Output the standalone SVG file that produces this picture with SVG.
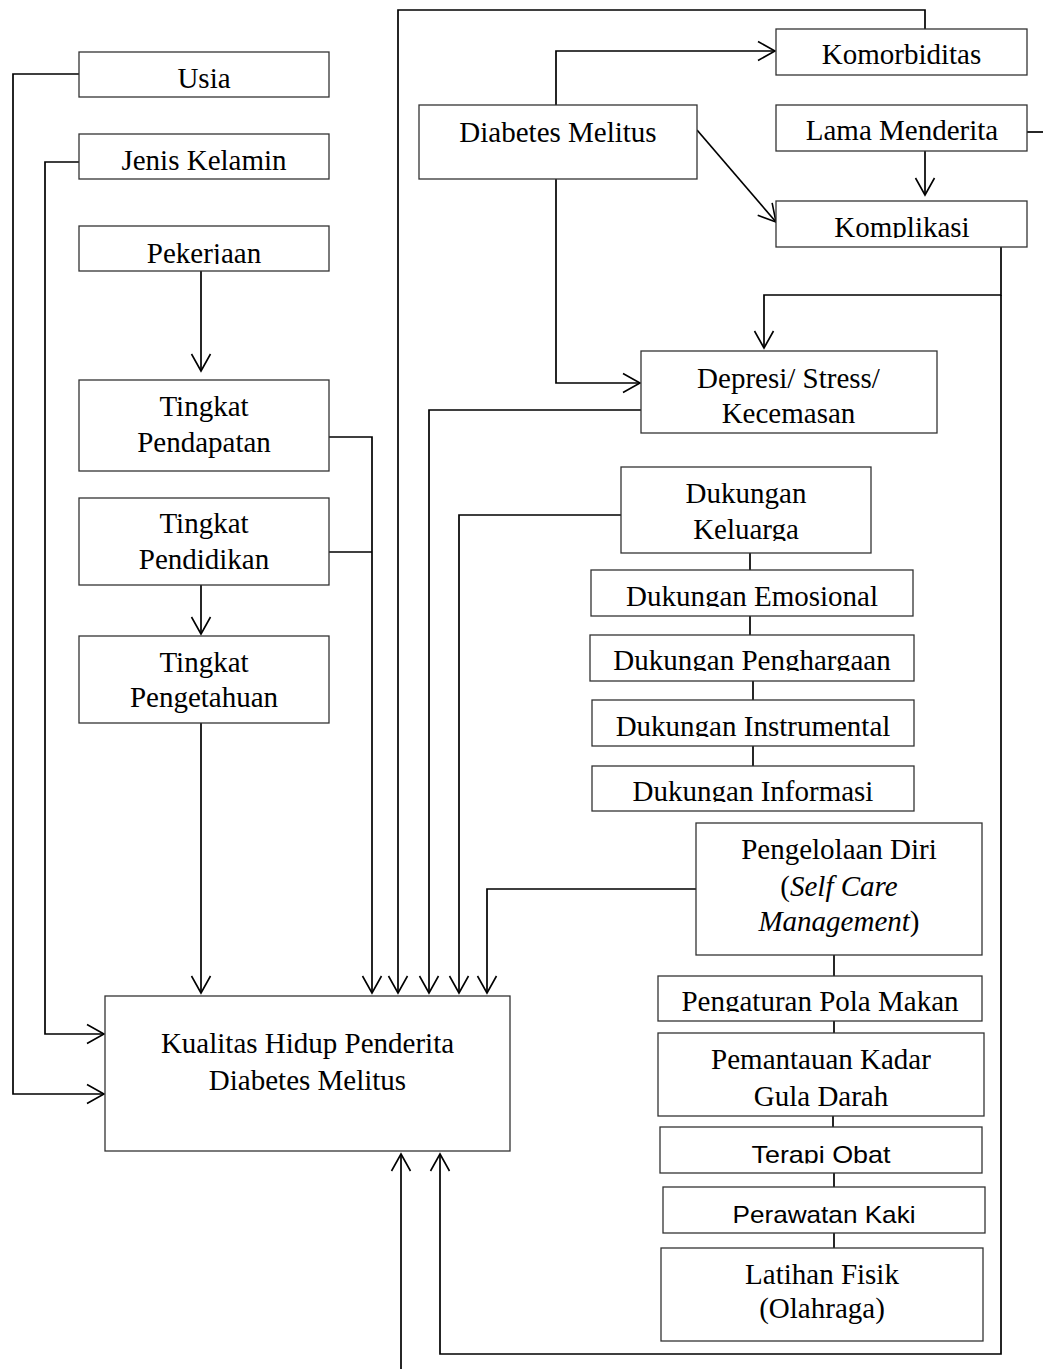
<svg xmlns="http://www.w3.org/2000/svg" width="1043" height="1369" viewBox="0 0 1043 1369">
<style>
.box{fill:#fff;stroke:#333;stroke-width:1.3}
.t{font-family:"Liberation Serif","Times New Roman",serif;font-size:29px;fill:#000;text-anchor:middle}
.s{font-family:"Liberation Sans",Arial,sans-serif;font-size:24px;fill:#000;text-anchor:middle}
.c{fill:none;stroke:#000;stroke-width:1.7}
.a{marker-end:url(#arr)}
</style>
<defs>
<marker id="arr" markerUnits="userSpaceOnUse" viewBox="-20 -12 22 24" markerWidth="22" markerHeight="24" refX="0" refY="0" orient="auto" overflow="visible">
<path d="M-17,-9.5 L0,0 L-17,9.5" fill="none" stroke="#000" stroke-width="1.6"/>
</marker>
<clipPath id="cpPek" clipPathUnits="userSpaceOnUse"><rect x="79" y="226" width="250" height="38"/></clipPath>
<clipPath id="cpKom" clipPathUnits="userSpaceOnUse"><rect x="776" y="201" width="251" height="37"/></clipPath>
<clipPath id="cpKel" clipPathUnits="userSpaceOnUse"><rect x="621" y="467" width="250" height="74"/></clipPath>
<clipPath id="cpEmo" clipPathUnits="userSpaceOnUse"><rect x="591" y="570" width="322" height="37"/></clipPath>
<clipPath id="cpPen" clipPathUnits="userSpaceOnUse"><rect x="590" y="635" width="324" height="36"/></clipPath>
<clipPath id="cpIns" clipPathUnits="userSpaceOnUse"><rect x="592" y="700" width="322" height="37"/></clipPath>
<clipPath id="cpInf" clipPathUnits="userSpaceOnUse"><rect x="592" y="766" width="322" height="36"/></clipPath>
<clipPath id="cpPol" clipPathUnits="userSpaceOnUse"><rect x="658" y="976" width="324" height="36"/></clipPath>
<clipPath id="cpTer" clipPathUnits="userSpaceOnUse"><rect x="660" y="1127" width="322" height="36.5"/></clipPath>
<clipPath id="cpKak" clipPathUnits="userSpaceOnUse"><rect x="663" y="1187" width="322" height="36"/></clipPath>
</defs>
<rect width="1043" height="1369" fill="#fff"/>

<g id="connectors">
<polyline class="c a" points="79,74 13,74 13,1094 104,1094"/>
<polyline class="c a" points="79,162 45,162 45,1034 104,1034"/>
<polyline class="c a" points="201,271 201,371"/>
<polyline class="c a" points="201,585 201,634"/>
<polyline class="c a" points="201,723 201,993"/>
<polyline class="c a" points="329,437 372,437 372,993"/>
<polyline class="c" points="329,552 372,552"/>
<polyline class="c a" points="925,29 925,10 398,10 398,993"/>
<polyline class="c a" points="641,410 429,410 429,993"/>
<polyline class="c a" points="621,515 459,515 459,993"/>
<polyline class="c a" points="696,889 487,889 487,993"/>
<polyline class="c a" points="556,105 556,51 775,51"/>
<polyline class="c a" points="697,130 776,222"/>
<polyline class="c a" points="925,151 925,195"/>
<polyline class="c" points="1027,132 1043,132"/>
<polyline class="c a" points="1001,247 1001,295 764,295 764,348"/>
<polyline class="c a" points="1001,295 1001,1354 440,1354 440,1154"/>
<polyline class="c a" points="401,1369 401,1154"/>
<polyline class="c a" points="556,179 556,383 640,383"/>
<line class="c" x1="750" y1="553" x2="750" y2="571"/>
<line class="c" x1="750" y1="616" x2="750" y2="635"/>
<line class="c" x1="753" y1="681" x2="753" y2="701"/>
<line class="c" x1="753" y1="746" x2="753" y2="766"/>
<line class="c" x1="834" y1="955" x2="834" y2="976"/>
<line class="c" x1="834" y1="1021" x2="834" y2="1033"/>
<line class="c" x1="833" y1="1116" x2="833" y2="1127"/>
<line class="c" x1="834" y1="1173" x2="834" y2="1187"/>
<line class="c" x1="834" y1="1233" x2="834" y2="1248"/>
</g>

<g id="usia"><rect class="box" x="79" y="52" width="250" height="45"/><text class="t" x="204" y="88">Usia</text></g>
<g id="jenis-kelamin"><rect class="box" x="79" y="134" width="250" height="45"/><text class="t" x="204" y="170">Jenis Kelamin</text></g>
<g id="pekerjaan"><rect class="box" x="79" y="226" width="250" height="45"/><text class="t" x="204" y="263" clip-path="url(#cpPek)">Pekerjaan</text></g>
<g id="tingkat-pendapatan"><rect class="box" x="79" y="380" width="250" height="91"/><text class="t" x="204" y="416">Tingkat</text><text class="t" x="204" y="452">Pendapatan</text></g>
<g id="tingkat-pendidikan"><rect class="box" x="79" y="498" width="250" height="87"/><text class="t" x="204" y="533">Tingkat</text><text class="t" x="204" y="569">Pendidikan</text></g>
<g id="tingkat-pengetahuan"><rect class="box" x="79" y="636" width="250" height="87"/><text class="t" x="204" y="672">Tingkat</text><text class="t" x="204" y="707">Pengetahuan</text></g>
<g id="kualitas-hidup"><rect class="box" x="105" y="996" width="405" height="155"/><text class="t" x="307.5" y="1053">Kualitas Hidup Penderita</text><text class="t" x="307.5" y="1090">Diabetes Melitus</text></g>

<g id="diabetes-melitus"><rect class="box" x="419" y="105" width="278" height="74"/><text class="t" x="558" y="142">Diabetes Melitus</text></g>
<g id="komorbiditas"><rect class="box" x="776" y="29" width="251" height="46"/><text class="t" x="901.5" y="64">Komorbiditas</text></g>
<g id="lama-menderita"><rect class="box" x="776" y="105" width="251" height="46"/><text class="t" x="902" y="140">Lama Menderita</text></g>
<g id="komplikasi"><rect class="box" x="776" y="201" width="251" height="46"/><text class="t" x="902" y="237" clip-path="url(#cpKom)">Komplikasi</text></g>
<g id="depresi"><rect class="box" x="641" y="351" width="296" height="82"/><text class="t" x="788.5" y="388">Depresi/ Stress/</text><text class="t" x="788.5" y="423">Kecemasan</text></g>

<g id="dukungan-keluarga"><rect class="box" x="621" y="467" width="250" height="86"/><text class="t" x="746" y="503">Dukungan</text><text class="t" x="746" y="539" clip-path="url(#cpKel)">Keluarga</text></g>
<g id="dukungan-emosional"><rect class="box" x="591" y="570" width="322" height="46"/><text class="t" x="752" y="606" clip-path="url(#cpEmo)">Dukungan Emosional</text></g>
<g id="dukungan-penghargaan"><rect class="box" x="590" y="635" width="324" height="46"/><text class="t" x="752" y="670" clip-path="url(#cpPen)">Dukungan Penghargaan</text></g>
<g id="dukungan-instrumental"><rect class="box" x="592" y="700" width="322" height="46"/><text class="t" x="753" y="736" clip-path="url(#cpIns)">Dukungan Instrumental</text></g>
<g id="dukungan-informasi"><rect class="box" x="592" y="766" width="322" height="45"/><text class="t" x="753" y="801" clip-path="url(#cpInf)">Dukungan Informasi</text></g>

<g id="pengelolaan-diri"><rect class="box" x="696" y="823" width="286" height="132"/><text class="t" x="839" y="859">Pengelolaan Diri</text><text class="t" x="839" y="896">(<tspan font-style="italic">Self Care</tspan></text><text class="t" x="839" y="931"><tspan font-style="italic">Management</tspan>)</text></g>
<g id="pola-makan"><rect class="box" x="658" y="976" width="324" height="45"/><text class="t" x="820" y="1011" clip-path="url(#cpPol)">Pengaturan Pola Makan</text></g>
<g id="kadar-gula"><rect class="box" x="658" y="1033" width="326" height="83"/><text class="t" x="821" y="1069">Pemantauan Kadar</text><text class="t" x="821" y="1106">Gula Darah</text></g>
<g id="terapi-obat"><rect class="box" x="660" y="1127" width="322" height="46"/><text class="s" x="821" y="1162.5" textLength="139" lengthAdjust="spacingAndGlyphs" clip-path="url(#cpTer)">Terapi Obat</text></g>
<g id="perawatan-kaki"><rect class="box" x="663" y="1187" width="322" height="46"/><text class="s" x="824" y="1222.5" textLength="183" lengthAdjust="spacingAndGlyphs" clip-path="url(#cpKak)">Perawatan Kaki</text></g>
<g id="latihan-fisik"><rect class="box" x="661" y="1248" width="322" height="93"/><text class="t" x="822" y="1284">Latihan Fisik</text><text class="t" x="822" y="1318">(Olahraga)</text></g>
</svg>
